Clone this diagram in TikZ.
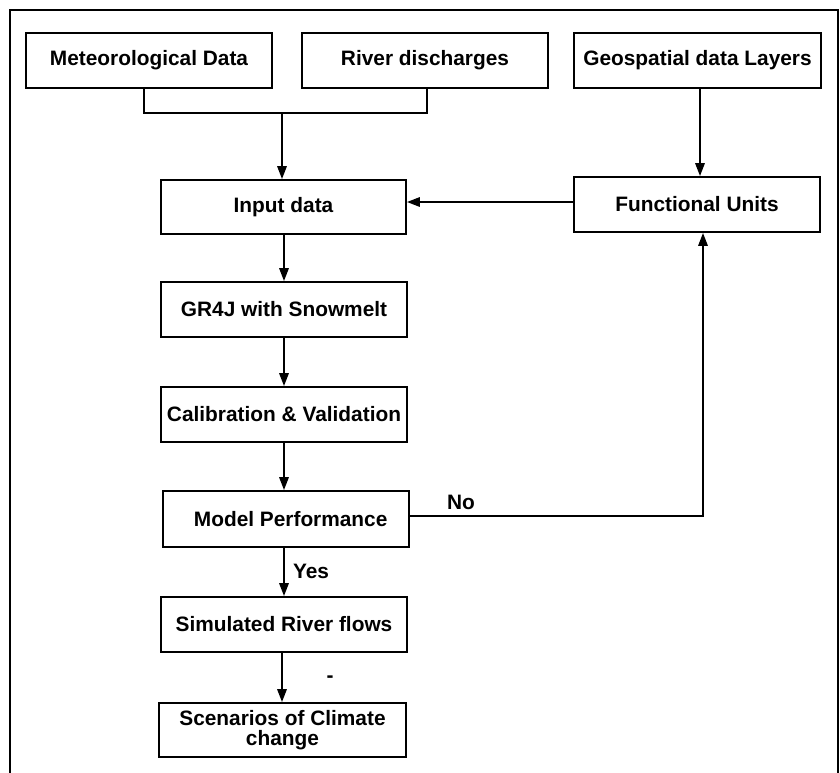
\documentclass[tikz,border=0pt]{standalone}
\usepackage{fontspec}
\setmainfont{Liberation Sans}
\usetikzlibrary{arrows.meta}
\tikzset{
	stage/.style={draw, line width=1.6pt, minimum width=246*0.03cm, minimum height=55*0.03cm, inner sep=2pt, align=center, font=\fontsize{17.8}{17}\selectfont\bfseries},
	flow/.style={line width=1.6pt, -{Triangle[length=11pt,width=8pt]}},
	link/.style={line width=1.6pt},
	tag/.style={font=\fontsize{17.8}{17}\selectfont\bfseries, inner sep=0pt}
}

\begin{document}
\begin{tikzpicture}[x=0.03cm, y=-0.03cm]
		%%%%% START %%%%%
		\useasboundingbox (0, 0) rectangle (840, 772);
		
		\draw[line width=1.3pt] (10, 790) -- (10, 10) -- (838, 10) -- (838, 790);
		
		\node[stage] (met) at (149, 60.5) {Meteorological Data};
		\node[stage] (riv) at (425, 60.5) {River discharges};
		\node[stage, minimum width=247*0.03cm] (geo) at (697.5, 60.5) {Geospatial data Layers};
		
		\node[stage, minimum width=245*0.03cm, minimum height=54*0.03cm] (inp) at (283.5, 207) {Input data};
		\node[stage] (fun) at (697, 204.5) {Functional Units};
		\node[stage] (gr4j) at (284, 309.5) {GR4J with Snowmelt};
		\node[stage] (cal) at (284, 414.5) {Calibration \& Validation};
		\node[stage, minimum height=56*0.03cm] (mod) at (286, 519) {\hspace{8pt}Model Performance};
		\node[stage] (sim) at (284, 624.5) {Simulated River flows};
		\node[stage, minimum width=247*0.03cm, minimum height=54*0.03cm] (scn) at (282.5, 730) {Scenarios of Climate\\change};
		
		\coordinate (join) at (282, 113);
		\draw[link] (met.south -| 144, 0) |- (join) -| (riv.south -| 427, 0);
		\draw[flow] (join) -- (inp.north -| join);
		
		\draw[flow] (geo.south -| 700, 0) -- (fun.north -| 700, 0);
		\draw[flow] (fun.west |- 0, 202) -- (inp.east |- 0, 202);
		
		\draw[flow] (gr4j.north |- inp.south) -- (gr4j.north);
		\draw[flow] (gr4j) -- (cal);
		\draw[flow] (cal.south) -- (mod.north -| cal.south);
		\draw[flow] (mod.east |- 0, 516) -| (fun.south -| 703, 0);
		\draw[flow] (mod.south -| cal.south) -- (sim.north -| cal.south);
		\draw[flow] (sim.south -| 282, 0) -- (scn.north -| 282, 0);
		
		\node[tag] (no) at (461, 502) {No};
		\node[tag] (yes) at (311, 571) {Yes};
		\node[tag] (dash) at (330, 679) {-};
		
		%%%%% END %%%%%
	\end{tikzpicture}
\end{document}
